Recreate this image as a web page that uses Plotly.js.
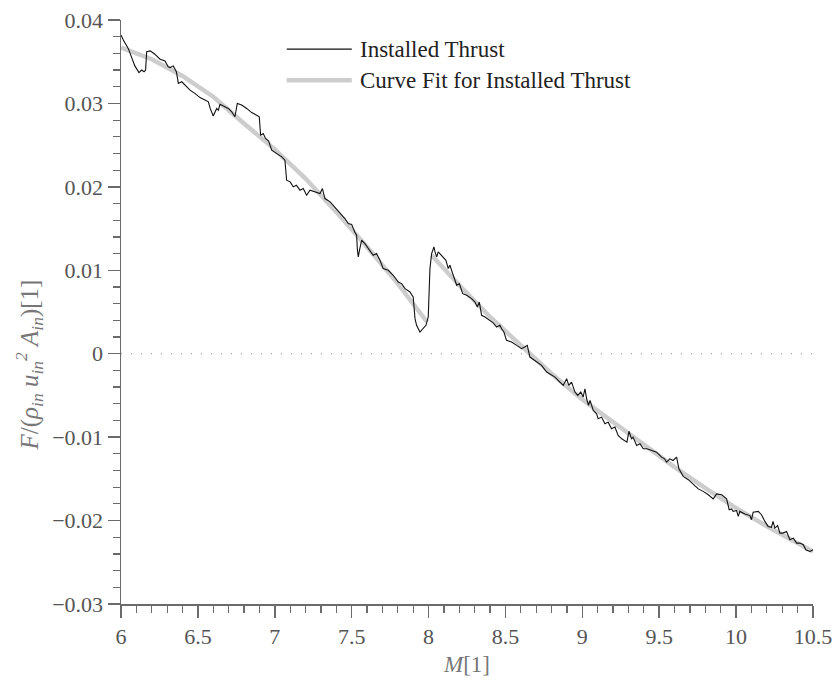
<!DOCTYPE html>
<html>
<head>
<meta charset="utf-8">
<script src="https://cdn.plot.ly/plotly-3.0.1.min.js"></script>
<style>html,body{margin:0;padding:0;background:#fff;}#chart{width:838px;height:687px;}</style>
</head>
<body>
<div id="chart"></div>
<script>
// Installed thrust (Mach number vs normalised thrust)
var machInstalled = [6.000,6.015,6.047,6.070,6.090,6.117,6.134,6.150,6.160,6.167,6.190,6.220,6.254,6.286,6.307,6.320,6.340,6.360,6.373,6.395,6.416,6.449,6.480,6.514,6.546,6.568,6.580,6.600,6.622,6.633,6.644,6.665,6.698,6.720,6.741,6.756,6.785,6.817,6.850,6.871,6.899,6.908,6.925,6.940,6.960,6.980,7.012,7.045,7.066,7.077,7.100,7.120,7.140,7.164,7.185,7.207,7.229,7.260,7.294,7.310,7.326,7.360,7.390,7.424,7.456,7.478,7.500,7.520,7.532,7.537,7.543,7.552,7.565,7.586,7.619,7.640,7.662,7.684,7.705,7.738,7.770,7.803,7.825,7.847,7.879,7.900,7.912,7.922,7.944,7.965,7.983,7.998,8.009,8.020,8.035,8.042,8.053,8.063,8.085,8.113,8.128,8.139,8.157,8.183,8.200,8.222,8.248,8.280,8.302,8.317,8.330,8.345,8.367,8.400,8.420,8.443,8.464,8.475,8.490,8.507,8.540,8.573,8.605,8.625,8.642,8.659,8.703,8.735,8.768,8.800,8.822,8.854,8.876,8.898,8.912,8.930,8.952,8.970,8.990,9.005,9.017,9.028,9.040,9.050,9.071,9.093,9.103,9.125,9.147,9.168,9.190,9.212,9.233,9.256,9.277,9.290,9.303,9.320,9.330,9.353,9.375,9.396,9.420,9.450,9.483,9.515,9.535,9.548,9.569,9.590,9.613,9.628,9.640,9.656,9.689,9.721,9.754,9.786,9.819,9.851,9.873,9.906,9.938,9.955,9.970,9.981,10.003,10.014,10.024,10.057,10.090,10.100,10.111,10.144,10.165,10.187,10.208,10.230,10.240,10.252,10.270,10.285,10.305,10.328,10.350,10.372,10.393,10.415,10.437,10.453,10.480,10.500];
var thrustInstalled = [0.0382,0.0376,0.0366,0.0356,0.0345,0.0337,0.0340,0.0338,0.0340,0.0362,0.0363,0.0359,0.0353,0.0351,0.0344,0.0343,0.0345,0.0338,0.0324,0.0326,0.0322,0.0316,0.0312,0.0307,0.0304,0.0302,0.0294,0.0285,0.0294,0.0292,0.0299,0.0297,0.0294,0.0290,0.0284,0.0300,0.0298,0.0294,0.0289,0.0287,0.0284,0.0262,0.0264,0.0258,0.0255,0.0244,0.0240,0.0236,0.0232,0.0208,0.0206,0.0200,0.0202,0.0196,0.0198,0.0190,0.0196,0.0194,0.0192,0.0198,0.0186,0.0182,0.0176,0.0169,0.0162,0.0156,0.0155,0.0146,0.0142,0.0125,0.0116,0.0125,0.0136,0.0132,0.0124,0.0118,0.0120,0.0112,0.0102,0.0100,0.0094,0.0086,0.0084,0.0078,0.0074,0.0068,0.0042,0.0034,0.0026,0.0030,0.0034,0.0044,0.0102,0.0120,0.0128,0.0122,0.0116,0.0122,0.0118,0.0112,0.0102,0.0106,0.0096,0.0082,0.0084,0.0072,0.0070,0.0066,0.0062,0.0056,0.0062,0.0046,0.0044,0.0039,0.0037,0.0032,0.0034,0.0030,0.0026,0.0016,0.0014,0.0010,0.0006,0.0008,0.0010,-0.0004,-0.0010,-0.0014,-0.0022,-0.0026,-0.0028,-0.0034,-0.0038,-0.0030,-0.0038,-0.0034,-0.0046,-0.0050,-0.0046,-0.0052,-0.0042,-0.0054,-0.0062,-0.0056,-0.0068,-0.0072,-0.0078,-0.0076,-0.0084,-0.0082,-0.0090,-0.0088,-0.0098,-0.0102,-0.0104,-0.0106,-0.0093,-0.0102,-0.0100,-0.0110,-0.0108,-0.0114,-0.0114,-0.0116,-0.0118,-0.0124,-0.0126,-0.0130,-0.0126,-0.0128,-0.0124,-0.0138,-0.0142,-0.0147,-0.0151,-0.0156,-0.0162,-0.0165,-0.0169,-0.0174,-0.0168,-0.0169,-0.0174,-0.0187,-0.0186,-0.0189,-0.0188,-0.0195,-0.0189,-0.0192,-0.0194,-0.0199,-0.0190,-0.0189,-0.0193,-0.0201,-0.0207,-0.0208,-0.0201,-0.0209,-0.0206,-0.0215,-0.0215,-0.0213,-0.0223,-0.0221,-0.0227,-0.0227,-0.0229,-0.0235,-0.0237,-0.0235];

// Curve fit (two branches, broken at M = 8)
var machFit = [6.0,6.2,6.4,6.6,6.8,7.0,7.2,7.4,7.6,7.8,7.99,null,8.02,8.2,8.4,8.6,8.8,9.0,9.2,9.4,9.6,9.8,10.0,10.2,10.4,10.5];
var thrustFit = [0.0367,0.0353,0.0333,0.0308,0.0276,0.0245,0.0210,0.0170,0.0128,0.0084,0.0038,null,0.0118,0.0082,0.0044,0.0010,-0.0024,-0.0055,-0.0082,-0.0110,-0.0136,-0.0161,-0.0185,-0.0207,-0.0228,-0.0237];

var xTicks = [6,6.5,7,7.5,8,8.5,9,9.5,10,10.5];
var xTickText = ['6','6.5','7','7.5','8','8.5','9','9.5','10','10.5'];
var yTicks = [-0.03,-0.02,-0.01,0,0.01,0.02,0.03,0.04];
var yTickText = ['\u22120.03','\u22120.02','\u22120.01','0','0.01','0.02','0.03','0.04'];
var seriesNames = ['Installed Thrust','Curve Fit for Installed Thrust'];

var serif = 'Liberation Serif';
var axisGray = '#6b6b6b';

var traces = [
  {x: machFit, y: thrustFit, type: 'scatter', mode: 'lines', name: seriesNames[1],
   line: {color: '#cdcdcd', width: 4.5}, connectgaps: false, showlegend: false, hoverinfo: 'skip'},
  {x: machInstalled, y: thrustInstalled, type: 'scatter', mode: 'lines', name: seriesNames[0],
   line: {color: '#111111', width: 1.1}, showlegend: false}
];

function axisBase() {
  return {
    showgrid: false, zeroline: false, showline: true, linecolor: axisGray, linewidth: 1.5,
    ticks: 'outside', tickcolor: axisGray, tickwidth: 1.5, ticklen: 12,
    tickfont: {family: serif, size: 22, color: '#555555'}
  };
}

var xa = axisBase();
xa.range = [6, 10.5];
xa.tickmode = 'array'; xa.tickvals = xTicks; xa.ticktext = xTickText;
xa.minor = {ticks: 'outside', ticklen: 7, tickcolor: axisGray, tickwidth: 1.2, dtick: 0.1, tick0: 6};
xa.title = {text: '<i>M</i>[1]', font: {family: serif, size: 23, color: '#777777'}, standoff: 8};

var ya = axisBase();
ya.range = [-0.03, 0.04];
ya.tickmode = 'array'; ya.tickvals = yTicks; ya.ticktext = yTickText;
ya.minor = {ticks: 'outside', ticklen: 7, tickcolor: axisGray, tickwidth: 1.2, dtick: 0.002, tick0: 0};

var layout = {
  width: 838, height: 687,
  margin: {l: 121, r: 25, t: 20, b: 83},
  font: {family: serif, size: 22, color: '#555555'},
  paper_bgcolor: '#ffffff', plot_bgcolor: '#ffffff',
  showlegend: false,
  xaxis: xa,
  yaxis: ya,
  shapes: [
    {type: 'line', xref: 'x', yref: 'y', x0: 6, x1: 10.5, y0: 0, y1: 0,
     line: {color: '#888888', width: 1, dash: '1px,9px'}, layer: 'below'},
    {type: 'line', xref: 'paper', yref: 'paper', x0: 0.2395, x1: 0.3335, y0: 0.950, y1: 0.950,
     line: {color: '#111111', width: 1.2}},
    {type: 'line', xref: 'paper', yref: 'paper', x0: 0.2395, x1: 0.3335, y0: 0.897, y1: 0.897,
     line: {color: '#cdcdcd', width: 4.5}}
  ],
  annotations: [
    {xref: 'paper', yref: 'paper', x: 0.342, y: 0.950, xanchor: 'left', yanchor: 'middle',
     text: seriesNames[0], showarrow: false, font: {family: serif, size: 23, color: '#222222'}},
    {xref: 'paper', yref: 'paper', x: 0.342, y: 0.897, xanchor: 'left', yanchor: 'middle',
     text: seriesNames[1], showarrow: false, font: {family: serif, size: 23, color: '#222222'}},
    {xref: 'paper', yref: 'paper', x: -0.133, y: 0.41, xanchor: 'center', yanchor: 'middle',
     textangle: -90, showarrow: false,
     text: '<i>F</i>/(<i>\u03c1<sub>in</sub></i> <i>u<sub>in</sub><sup>2</sup></i> <i>A<sub>in</sub></i>)[1]',
     font: {family: serif, size: 25, color: '#777777'}}
  ]
};

Plotly.newPlot('chart', traces, layout, {displayModeBar: false, staticPlot: true});
</script>
</body>
</html>
